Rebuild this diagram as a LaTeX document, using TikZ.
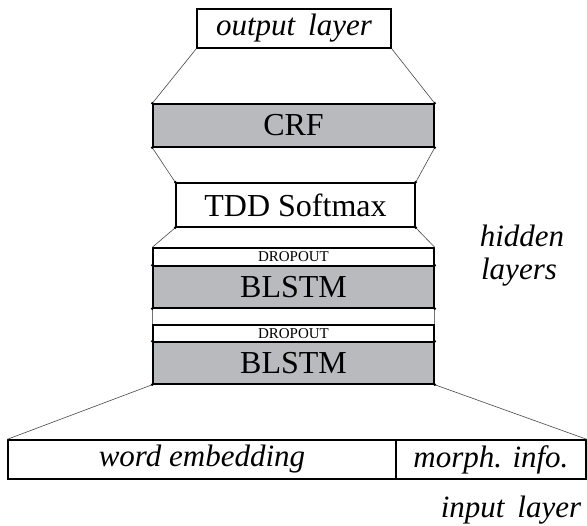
\documentclass[tikz,border=0pt]{standalone}
\usepackage{fontspec}
\setmainfont{Liberation Serif}
\definecolor{layergray}{RGB}{185,186,190}
\definecolor{linegray}{RGB}{70,70,70}
\begin{document}
\begin{tikzpicture}[x=1pt,y=-1pt,
  lay/.style={draw=black, line width=1.4pt, inner sep=0pt, fill=white, font=\fontsize{32}{32}\selectfont},
  grayl/.style={lay, fill=layergray},
  drop/.style={lay, font=\fontsize{15}{15}\selectfont},
  conn/.style={draw=linegray, line width=0.6pt},
  side/.style={draw=black!55, line width=0.8pt},
  lbl/.style={font=\fontsize{31}{31}\selectfont\itshape, anchor=base, inner sep=0pt},
  dot/.style={fill=black, circle, inner sep=0pt, minimum size=3pt}]
\useasboundingbox (0,0) rectangle (587,526);
\node[lay, minimum width=194pt, minimum height=39pt, font=\fontsize{31}{31}\selectfont\itshape] (out) at (294,28.5) {output\, layer};
\node[grayl, minimum width=281pt, minimum height=43pt] (crf) at (293.5,125.5) {CRF};
\node[lay, minimum width=239pt, minimum height=44pt] (tdd) at (295.5,205) {TDD Softmax};
\node[drop, minimum width=281pt, minimum height=18pt] (d1) at (293.5,257) {DROPOUT};
\node[grayl, minimum width=281pt, minimum height=42pt] (b1) at (293.5,287) {BLSTM};
\node[drop, minimum width=281pt, minimum height=17pt] (d2) at (293.5,333.5) {DROPOUT};
\node[grayl, minimum width=281pt, minimum height=42pt] (b2) at (293.5,363) {BLSTM};
\node[lay, minimum width=388pt, minimum height=39pt, font=\fontsize{31}{31}\selectfont\itshape] (we) at (202,459.5) {word embedding};
\node[lay, minimum width=190pt, minimum height=39pt, font=\fontsize{31}{31}\selectfont\itshape] (mi) at (491,459.5) {morph. info.};
\node[lbl] (hid) at (522,247) {hidden};
\node[lbl] (lay2) at (519,280) {layers};
\node[lbl] (inp) at (511,518) {input\, layer};
\draw[conn] (out.south west) -- (crf.north west);
\draw[conn] (out.south east) -- (crf.north east);
\draw[conn] (crf.south west) -- (tdd.north west);
\draw[conn] (crf.south east) -- (tdd.north east);
\draw[conn] (tdd.south west) -- (d1.north west);
\draw[conn] (tdd.south east) -- (d1.north east);
\draw[side] (b1.south west) -- (d2.north west);
\draw[side] (b1.south east) -- (d2.north east);
\draw[conn] (b2.south west) -- (we.north west);
\draw[conn] (b2.south east) -- (mi.north east);
\foreach \n in {crf,tdd,b1,b2} {
  \node[dot] at (\n.north west) {};
  \node[dot] at (\n.north east) {};
  \node[dot] at (\n.south west) {};
  \node[dot] at (\n.south east) {};
}
\end{tikzpicture}
\end{document}
